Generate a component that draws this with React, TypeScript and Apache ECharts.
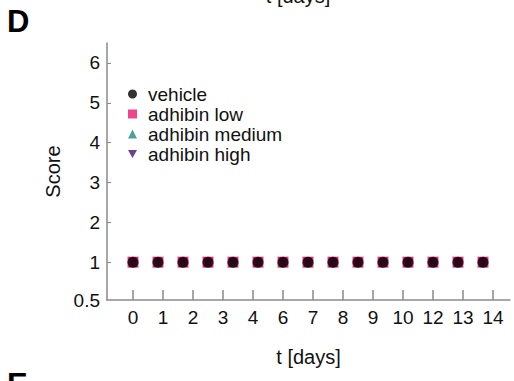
import React, { useEffect, useRef } from "react";
import * as echarts from "echarts";

const days = [0, 1, 2, 3, 4, 5, 6, 7, 8, 9, 10, 11, 12, 13, 14];
const vehicle = [1, 1, 1, 1, 1, 1, 1, 1, 1, 1, 1, 1, 1, 1, 1];
const adhibinLow = [1, 1, 1, 1, 1, 1, 1, 1, 1, 1, 1, 1, 1, 1, 1];
const adhibinMedium = [1, 1, 1, 1, 1, 1, 1, 1, 1, 1, 1, 1, 1, 1, 1];
const adhibinHigh = [1, 1, 1, 1, 1, 1, 1, 1, 1, 1, 1, 1, 1, 1, 1];
const xTickLabels = ["0", "1", "2", "3", "4", "6", "7", "8", "9", "10", "12", "13", "14"];
const yTickValues = [1, 2, 3, 4, 5, 6];
const yBottomValue = 0.05;
const yBottomLabel = "0.5";

const FONT = "Liberation Sans";
const downTri = "path://M0,0 L10,0 L5,9 Z";

export default function App() {
  const ref = useRef<HTMLDivElement>(null);
  useEffect(() => {
    if (!ref.current) return;
    const chart = echarts.init(ref.current, undefined, { renderer: "svg" });
    const pts = (arr: number[]) => arr.map((v, i) => [days[i], v]);
    const axisGray = "#8a8a8a";
    chart.setOption({
      animation: false,
      backgroundColor: "#ffffff",
      textStyle: { fontFamily: FONT },
      grid: { left: 107, right: 4, top: 43, bottom: 81, containLabel: false },
      legend: {
        orient: "vertical",
        left: 123,
        top: 79,
        itemGap: 0,
        itemWidth: 9,
        itemHeight: 9,
        data: [
          { name: "vehicle", icon: "circle" },
          { name: "adhibin low", icon: "rect" },
          { name: "adhibin medium", icon: "triangle" },
          { name: "adhibin high", icon: downTri },
        ],
        textStyle: { fontFamily: FONT, fontSize: 19, lineHeight: 20, color: "#111", padding: [0, 0, 0, 6] },
        selectedMode: false,
      },
      xAxis: [
        {
          type: "value",
          min: -0.867,
          max: 12.567,
          name: "t [days]",
          nameLocation: "middle",
          nameGap: 47,
          nameTextStyle: { fontFamily: FONT, fontSize: 20, color: "#111" },
          axisLine: { show: true, onZero: false, lineStyle: { color: axisGray, width: 1.5 } },
          axisTick: {
            show: true,
            inside: true,
            length: 10,
            customValues: xTickLabels.map((_, i) => i),
            lineStyle: { color: axisGray, width: 1.5 },
          },
          axisLabel: {
            customValues: xTickLabels.map((_, i) => i),
            formatter: (v: number) => xTickLabels[Math.round(v)] ?? "",
            fontFamily: FONT,
            fontSize: 19,
            color: "#111",
            margin: 8,
          },
          splitLine: { show: false },
        },
        {
          type: "value",
          min: -1.04,
          max: 15.08,
          show: false,
          axisLine: { onZero: false },
          splitLine: { show: false },
        },
      ],
      yAxis: {
        type: "value",
        min: yBottomValue,
        max: 6.5,
        name: "Score",
        nameLocation: "middle",
        nameGap: 44,
        nameTextStyle: { fontFamily: FONT, fontSize: 20, color: "#111" },
        axisLine: { show: true, onZero: false, lineStyle: { color: axisGray, width: 1.5 } },
        axisTick: {
          show: true,
          inside: true,
          length: 4,
          customValues: yTickValues,
          lineStyle: { color: axisGray, width: 1 },
        },
        axisLabel: {
          customValues: [yBottomValue, ...yTickValues],
          formatter: (v: number) => (v < 0.5 ? yBottomLabel : String(v)),
          fontFamily: FONT,
          fontSize: 19,
          color: "#111",
          margin: 7,
        },
        splitLine: { show: false },
      },
      series: [
        {
          name: "adhibin high",
          type: "scatter",
          xAxisIndex: 1,
          symbol: downTri,
          symbolSize: 10,
          itemStyle: { color: "#45107a" },
          data: pts(adhibinHigh),
        },
        {
          name: "adhibin medium",
          type: "scatter",
          xAxisIndex: 1,
          symbol: "triangle",
          symbolSize: 10,
          itemStyle: { color: "#1f8a80" },
          data: pts(adhibinMedium),
        },
        {
          name: "adhibin low",
          type: "scatter",
          xAxisIndex: 1,
          symbol: "rect",
          symbolSize: 11,
          itemStyle: { color: "#e8176a" },
          data: pts(adhibinLow),
        },
        {
          name: "vehicle",
          type: "scatter",
          xAxisIndex: 1,
          symbol: "circle",
          symbolSize: 11,
          itemStyle: { color: "#000000" },
          data: pts(vehicle),
        },
      ],
      graphic: [
        {
          type: "text",
          left: 7,
          top: 6,
          style: { text: "D", fontFamily: FONT, fontWeight: "bold", fontSize: 31, fill: "#000" },
        },
        {
          type: "text",
          left: 7,
          top: 369,
          style: { text: "E", fontFamily: FONT, fontWeight: "bold", fontSize: 31, fill: "#000" },
        },
        {
          type: "text",
          x: 298,
          y: 6,
          style: {
            text: "t [days]",
            fontFamily: FONT,
            fontSize: 20,
            fill: "#111",
            align: "center",
            verticalAlign: "bottom",
          },
        },
      ],
    });
    return () => chart.dispose();
  }, []);
  return (
    <div
      ref={ref}
      style={{ position: "absolute", left: 0, top: 0, width: 514, height: 381, background: "#fff" }}
    />
  );
}
